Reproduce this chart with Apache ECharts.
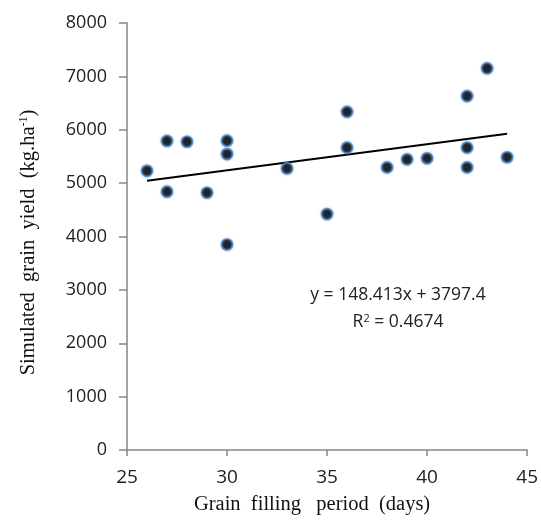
<!DOCTYPE html>
<html>
<head>
<meta charset="utf-8">
<script src="https://cdn.jsdelivr.net/npm/echarts@6/dist/echarts.min.js"></script>
<style>html,body{margin:0;padding:0;background:#fff}#c{width:541px;height:520px}</style>
</head>
<body>
<div id="c"></div>
<script>
var days = [26, 27, 27, 28, 29, 30, 30, 30, 33, 35, 36, 36, 38, 39, 40, 42, 42, 42, 43, 44];
var yieldKg = [5230, 5790, 4840, 5775, 4820, 5795, 5545, 3850, 5275, 4420, 6335, 5665, 5295, 5445, 5465, 6630, 5665, 5295, 7150, 5485];
var trendDays = [26, 44];
var trendYield = [5045, 5926];
var xTicks = [25, 30, 35, 40, 45];
var yTicks = [0, 1000, 2000, 3000, 4000, 5000, 6000, 7000, 8000];
var eqLine1 = 'y = 148.413x + 3797.4';
var eqLine2 = 'R{s|2} = 0.4674';

var pts = days.map(function (d, i) { return [d, yieldKg[i]]; });
var trend = trendDays.map(function (d, i) { return [d, trendYield[i]]; });

var axisCol = '#868686';
var chart = echarts.init(document.getElementById('c'));
chart.setOption({
  animation: false,
  grid: { left: 127, right: 12, top: 23, bottom: 70 },
  xAxis: {
    type: 'value', min: xTicks[0], max: xTicks[xTicks.length - 1], interval: 5,
    axisLine: { lineStyle: { color: axisCol, width: 1.5 } },
    axisTick: { show: true, inside: false, length: 6, lineStyle: { color: axisCol, width: 1.5 } },
    splitLine: { show: false },
    axisLabel: { color: '#222', fontFamily: 'Open Sans', fontSize: 19, margin: 18 },
    name: 'Grain  filling   period  (days)', nameLocation: 'middle', nameGap: 44,
    nameTextStyle: { color: '#111', fontFamily: 'Liberation Serif', fontSize: 20.5, padding: [0, 30, 0, 0] }
  },
  yAxis: {
    type: 'value', min: yTicks[0], max: yTicks[yTicks.length - 1], interval: 1000,
    axisLine: { show: true, lineStyle: { color: axisCol, width: 1.5 } },
    axisTick: { show: true, inside: false, length: 8, lineStyle: { color: axisCol, width: 1.5 } },
    splitLine: { show: false },
    axisLabel: { color: '#222', fontFamily: 'Open Sans', fontSize: 18, margin: 20,
      formatter: function (v) { return String(v); } },
    name: 'Simulated  grain  yield  (kg.ha{s|-1})', nameLocation: 'middle', nameGap: 88,
    nameTextStyle: { color: '#111', fontFamily: 'Liberation Serif', fontSize: 20.5, padding: [0, 12, 0, 0],
      rich: { s: { fontFamily: 'Liberation Serif', fontSize: 12, verticalAlign: 'top', padding: [0, 0, 8, 0] } } }
  },
  series: [
    {
      type: 'line', data: trend, symbol: 'none', z: 1,
      lineStyle: { color: '#000', width: 2 }
    },
    {
      type: 'scatter', data: pts, symbol: 'circle', symbolSize: 11, z: 3,
      itemStyle: { color: '#000', borderColor: '#4f86c9', borderWidth: 1.7,
        shadowBlur: 2, shadowColor: 'rgba(79,129,189,0.7)' }
    }
  ],
  graphic: [
    { type: 'text', x: 398, y: 295, z: 10,
      style: { text: eqLine1, fill: '#222', font: '17.5px "Open Sans"', align: 'center', verticalAlign: 'middle' } },
    { type: 'text', x: 398, y: 322, z: 10,
      style: { text: eqLine2, fill: '#222', font: '17.5px "Open Sans"', align: 'center', verticalAlign: 'middle',
        rich: { s: { fontSize: 11, fontFamily: 'Open Sans', verticalAlign: 'top', padding: [0, 0, 7, 0] } } } }
  ]
});
</script>
</body>
</html>
